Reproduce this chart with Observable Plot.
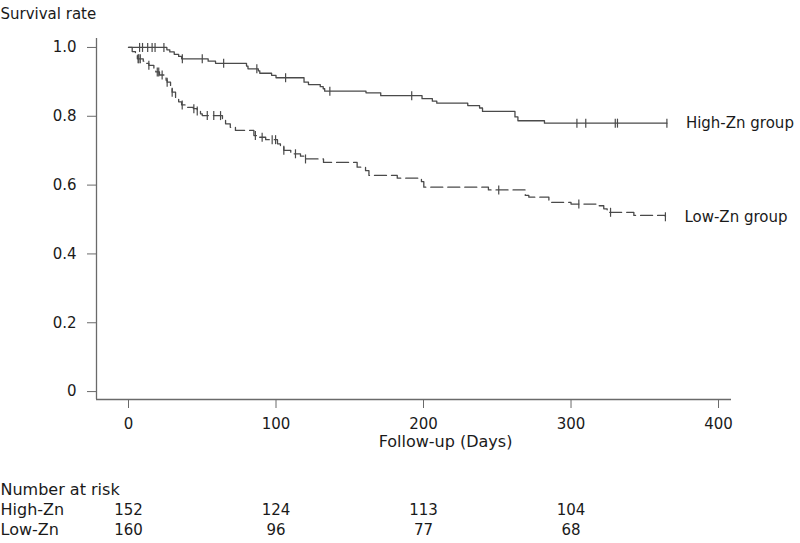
<!DOCTYPE html>
<html>
<head>
<meta charset="utf-8">
<script src="https://cdn.jsdelivr.net/npm/d3@7"></script>
<script src="https://cdn.jsdelivr.net/npm/@observablehq/plot@0.6"></script>
<style>
  body { margin: 0; background: #fff; }
  #chart svg { display: block; }
</style>
</head>
<body>
<div id="chart"></div>
<script>
// ---- Data ----
// Kaplan-Meier steps: day at which survival drops, and survival after the drop
const highDays = [0, 26, 28, 31, 34, 36, 54, 59, 80, 81, 88, 89, 97, 100, 119, 122, 130, 132, 133, 161, 171, 199, 206, 209, 230, 238, 240, 262, 264, 282, 365];
const highSurvival = [1.000, 0.993, 0.987, 0.980, 0.974, 0.967, 0.960, 0.954, 0.946, 0.938, 0.932, 0.925, 0.919, 0.912, 0.899, 0.892, 0.886, 0.880, 0.873, 0.868, 0.860, 0.851, 0.844, 0.838, 0.831, 0.824, 0.814, 0.798, 0.787, 0.780, 0.780];
const highCensorDays = [7.5, 9.5, 13, 16, 18, 24, 36.5, 50, 64.5, 87, 106.5, 136.5, 192, 304, 310, 330, 331.5, 365];

const lowDays = [0, 2.5, 4.7, 6, 10, 12, 13.8, 17.2, 18.5, 21, 24, 25.5, 26.2, 28.5, 29.6, 31.9, 34, 36, 39.8, 44, 46.6, 48.8, 50, 63.7, 65.8, 69, 72.5, 85, 88, 93, 101, 103, 105.3, 110, 116.6, 120, 132.2, 155, 160.7, 163, 182.2, 198.6, 200.2, 244, 269, 271.4, 285, 300, 318.8, 322.2, 324.5, 342.6, 364];
const lowSurvival = [1.000, 0.988, 0.977, 0.967, 0.960, 0.954, 0.948, 0.936, 0.929, 0.920, 0.911, 0.905, 0.899, 0.885, 0.870, 0.851, 0.842, 0.833, 0.826, 0.822, 0.815, 0.807, 0.802, 0.790, 0.778, 0.768, 0.759, 0.744, 0.739, 0.732, 0.720, 0.710, 0.701, 0.691, 0.684, 0.676, 0.666, 0.652, 0.642, 0.628, 0.620, 0.610, 0.594, 0.586, 0.570, 0.565, 0.550, 0.545, 0.540, 0.531, 0.521, 0.512, 0.508];
const lowCensorDays = [6.5, 7, 8, 13.8, 19.5, 20.5, 22.8, 26.2, 29.6, 36.4, 44.3, 46.6, 53.4, 57.8, 62.4, 86, 90.6, 97.4, 99.7, 105.3, 113.2, 120, 251, 305.3, 326.8, 364];

const groupNames = ["High-Zn group", "Low-Zn group"];
const riskRowNames = ["High-Zn", "Low-Zn"];
const riskDays = [0, 100, 200, 300];
const riskHigh = [152, 124, 113, 104];
const riskLow = [160, 96, 77, 68];

const xTicks = [0, 100, 200, 300, 400];
const yTicks = [0, 0.2, 0.4, 0.6, 0.8, 1.0];
const xDomain = [-21.7, 408.8];
const yDomain = [-0.023, 1.026];

// ---- Build tables ----
const toSeries = (days, surv) => days.map((d, i) => ({day: d, s: surv[i]}));
const stepAt = (days, surv, t) => {
  let v = surv[0];
  for (let i = 0; i < days.length; i++) if (days[i] <= t) v = surv[i];
  return v;
};
const highSeries = toSeries(highDays, highSurvival);
const lowSeries = toSeries(lowDays, lowSurvival);
const highCensor = highCensorDays.map(d => ({day: d, s: stepAt(highDays, highSurvival, d)}));
const lowCensor = lowCensorDays.map(d => ({day: d, s: stepAt(lowDays, lowSurvival, d)}));
const endLabels = [
  {...highSeries[highSeries.length - 1], label: groupNames[0]},
  {...lowSeries[lowSeries.length - 1], label: groupNames[1]}
];
const riskTable = riskDays.map((d, i) => ({day: d, high: riskHigh[i], low: riskLow[i]}));

const vtick = {
  draw(ctx, size) {
    const r = Math.sqrt(size / Math.PI);
    ctx.moveTo(0, -r);
    ctx.lineTo(0, r);
  }
};

const lineColor = "#4a4a4a";
const axisColor = "#6a6a6a";
const textColor = "#1a1a1a";

const chart = Plot.plot({
  width: 800,
  height: 543,
  marginLeft: 96,
  marginRight: 69,
  marginTop: 38,
  marginBottom: 144,
  style: {fontFamily: "'DejaVu Sans', sans-serif", fontSize: "15px", background: "#fff", color: textColor},
  x: {domain: xDomain, label: null},
  y: {domain: yDomain, label: null},
  marks: [
    Plot.ruleY([yDomain[0]], {stroke: axisColor, strokeWidth: 1.3}),
    Plot.ruleX([xDomain[0]], {stroke: axisColor, strokeWidth: 1.3}),
    Plot.axisX({ticks: xTicks, tickSize: 9, tickPadding: 10, tickFormat: d => String(d), label: null, stroke: axisColor, fill: textColor, fontSize: 15}),
    Plot.axisY({ticks: yTicks, tickSize: 9, tickPadding: 11, tickFormat: d => d === 0 ? "0" : d.toFixed(1), label: null, stroke: axisColor, fill: textColor, fontSize: 15}),
    Plot.line(highSeries, {x: "day", y: "s", curve: "step-after", stroke: lineColor, strokeWidth: 1.3}),
    Plot.line(lowSeries, {x: "day", y: "s", curve: "step-after", stroke: lineColor, strokeWidth: 1.3, strokeDasharray: "12,5"}),
    Plot.dot(highCensor, {x: "day", y: "s", symbol: vtick, r: 4.5, stroke: lineColor, strokeWidth: 1.2, fill: "none"}),
    Plot.dot(lowCensor, {x: "day", y: "s", symbol: vtick, r: 4.5, stroke: lineColor, strokeWidth: 1.2, fill: "none"}),
    Plot.text(endLabels, {x: "day", y: "s", text: "label", textAnchor: "start", dx: 19, fontSize: 15, fill: textColor}),
    Plot.text(["Survival rate"], {text: d => d, frameAnchor: "top-left", textAnchor: "start", dx: -96, dy: -29.7, fontSize: 15, fill: textColor}),
    Plot.text(["Follow-up (Days)"], {text: d => d, frameAnchor: "bottom", dx: 31.5, dy: 47, fontSize: 16, fill: textColor}),
    Plot.text(["Number at risk"], {text: d => d, frameAnchor: "bottom-left", textAnchor: "start", dx: -96, dy: 95, fontSize: 16, fill: textColor}),
    Plot.text([riskRowNames[0]], {text: d => d, frameAnchor: "bottom-left", textAnchor: "start", dx: -96, dy: 115, fontSize: 16, fill: textColor}),
    Plot.text([riskRowNames[1]], {text: d => d, frameAnchor: "bottom-left", textAnchor: "start", dx: -96, dy: 135, fontSize: 16, fill: textColor}),
    Plot.text(riskTable, {x: "day", text: d => String(d.high), frameAnchor: "bottom", dy: 115, fontSize: 15, fill: textColor}),
    Plot.text(riskTable, {x: "day", text: d => String(d.low), frameAnchor: "bottom", dy: 135, fontSize: 15, fill: textColor})
  ]
});
document.getElementById("chart").appendChild(chart);
</script>
</body>
</html>
